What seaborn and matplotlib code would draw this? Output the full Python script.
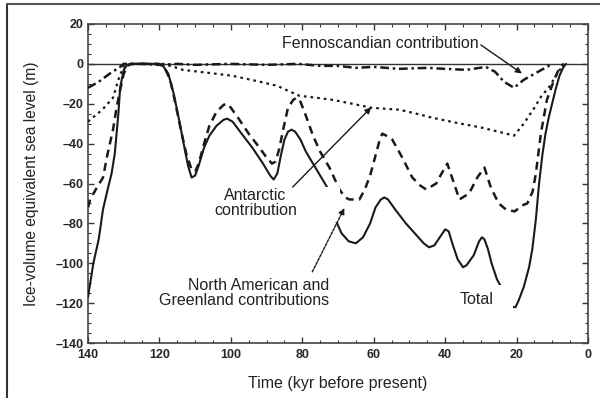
import matplotlib
matplotlib.use("Agg")
import matplotlib.pyplot as plt
from matplotlib.lines import Line2D
from matplotlib.patches import Rectangle
from matplotlib.ticker import MultipleLocator
import seaborn as sns
import pandas as pd

# ---------------- data ----------------
total_t = [140, 138.5, 137, 135.8, 134.5, 133.4, 132.5, 131.5, 131, 130, 129, 127, 124, 121,
           119, 117.5, 116, 114.5, 113, 112, 111, 110, 109, 107.5, 106, 104, 102, 101, 99.5,
           97, 94, 91, 89, 88, 87, 86, 85, 84, 83, 82, 80.5, 79, 77, 75, 73, 71.5, 70.5, 69,
           67, 65, 63, 61, 59.5, 58, 57, 56, 54, 51, 48, 46, 44.5, 43, 41.5, 40, 39, 38, 36.5,
           35, 34, 32, 30.5, 29.7, 29, 28, 27, 25.5, 24, 22.5, 21, 20.3, 19.5, 18, 16.5, 15.6,
           14.6, 13.7, 12.8, 11.9, 11, 9.1, 8, 7, 6.2]
total_v = [-117, -100, -88, -73, -63, -55, -45, -25, -12, -3, -0.5, 0, 0, 0,
           -1, -5, -15, -28, -42, -51, -57, -56, -51, -42, -36, -31, -28, -27.5, -29,
           -35, -42, -50, -56, -58, -55, -46, -38, -34, -33, -34, -38, -44, -50, -56, -62, -72, -79, -85,
           -89, -90, -87, -80, -72, -68, -67, -68, -73, -80, -86, -90, -92, -91, -87, -83, -84, -90, -98,
           -102, -101, -96, -89, -87, -88, -93, -100, -108, -113, -118, -122, -122, -119, -112, -102, -93,
           -78, -60, -46, -35, -27, -13, -6, -2, 0]

na_t = [140, 139.4, 137.5, 135.8, 134.5, 133, 132, 131, 130, 129, 128, 120, 118.5, 117, 115.5,
        114, 112.5, 111, 110, 109, 107.5, 106, 104, 102, 101, 100, 98, 95, 92, 90, 88.5, 87.5,
        86.5, 85, 84, 82.5, 81.6, 80.5, 79, 77, 75, 72.4, 69.6, 68, 66.8, 64, 62.5, 61, 59.5,
        58.3, 57.6, 56.5, 54.8, 52, 49.2, 47, 45.3, 42.5, 41, 39.4, 37.5, 36, 33.3, 31, 29,
        27.2, 25, 23, 20.5, 18.5, 17, 15.5, 14.6, 13.2, 11.5, 9.6, 8, 6.8]
na_v = [-72, -68, -62, -57, -45, -33, -22, -13, -5, -1, 0, 0, -2, -8, -20,
        -33, -45, -53, -54, -50, -40, -31, -24, -20.5, -20, -22, -27, -35, -42, -47, -50, -49,
        -43, -30, -22, -18, -17, -19, -26, -36, -44, -52, -63, -67, -68, -68, -63, -56, -46,
        -38, -35, -36, -38, -47, -57, -61, -63, -60, -55, -50, -60, -68, -65, -57, -52,
        -62, -70, -73, -74, -71, -70, -64, -55, -35, -18, -8.5, -2, 0]

fenno_t = [140, 137, 134, 131, 130, 125, 120, 115, 110, 100, 90, 81, 75, 70, 65, 60, 53, 45,
           40, 34, 28.6, 26, 23.5, 20.7, 18, 15, 12, 10]
fenno_v = [-12, -9, -5, -1.5, 0, 0, -0.5, 0, -0.5, 0, -0.5, 0, -1, -1, -2, -1.5, -2.5, -2,
           -2.5, -3, -1.5, -4, -9, -12, -8, -5, -2, 0]

ant_t = [140, 139.4, 136, 133, 131.5, 130, 128, 119, 116, 113.4, 108.7, 104, 99.5, 93, 87, 84,
         80.8, 76, 71.6, 66, 60.7, 52.8, 48, 43.6, 37, 29.7, 24, 20.7, 18, 15, 13, 11, 9, 6.8]
ant_v = [-29, -28, -23, -17, -8, -1, 0, 0, -1.5, -3, -4, -5, -6, -8.5, -11, -13.5,
         -16, -17, -18, -20, -22, -23, -25, -27, -29.5, -32, -34.5, -36, -30, -22, -16, -12, -6, 0]

x_ticks = [140, 120, 100, 80, 60, 40, 20, 0]
y_ticks = [20, 0, -20, -40, -60, -80, -100, -120, -140]

xlabel = "Time (kyr before present)"
ylabel = "Ice-volume equivalent sea level (m)"

# ---------------- figure ----------------
sns.set_theme(style="ticks")
plt.rcParams["font.family"] = ["Liberation Sans", "DejaVu Sans"]

fig = plt.figure(figsize=(6.0, 3.98), dpi=100)
ax = fig.add_axes([88 / 600, 1 - 343 / 398, 500 / 600, 319 / 398])

ink = "#1a1a1a"
frames = {
    "total": pd.DataFrame({"t": total_t, "v": total_v}),
    "na": pd.DataFrame({"t": na_t, "v": na_v}),
    "fenno": pd.DataFrame({"t": fenno_t, "v": fenno_v}),
    "ant": pd.DataFrame({"t": ant_t, "v": ant_v}),
}

ax.axhline(0, color="#333333", lw=1.0, zorder=1)
sns.lineplot(data=frames["total"], x="t", y="v", ax=ax, color=ink, lw=1.5,
             estimator=None, sort=False, zorder=3)
sns.lineplot(data=frames["na"], x="t", y="v", ax=ax, color=ink, lw=1.8,
             estimator=None, sort=False, zorder=3, linestyle=(0, (3.2, 2.2)))
sns.lineplot(data=frames["ant"], x="t", y="v", ax=ax, color=ink, lw=1.6,
             estimator=None, sort=False, zorder=3, linestyle=(0, (1.2, 1.8)))
sns.lineplot(data=frames["fenno"], x="t", y="v", ax=ax, color=ink, lw=1.8,
             estimator=None, sort=False, zorder=3, linestyle=(0, (3.5, 1.5, 1, 1.5)))

ax.set_xlim(140, 0)
ax.set_ylim(-140, 20)
ax.set_xticks(x_ticks)
ax.set_yticks(y_ticks)
ax.xaxis.set_minor_locator(MultipleLocator(5))
ax.yaxis.set_minor_locator(MultipleLocator(5))
ax.tick_params(which="both", direction="in", top=True, right=True, color="#333333")
ax.tick_params(which="major", length=4, width=1)
ax.tick_params(which="minor", length=2, width=0.8)
ax.set_xticklabels([str(v) for v in x_ticks], fontweight="bold", fontsize=9)
ax.set_yticklabels([str(v).replace("-", "\u2013") for v in y_ticks], fontweight="bold", fontsize=9)
ax.tick_params(axis="x", pad=4)
ax.tick_params(axis="y", pad=3)
for s in ax.spines.values():
    s.set_color("#444444")
    s.set_linewidth(1.2)

ax.set_xlabel(xlabel, fontsize=11.5, color="#222222", labelpad=11)
ax.set_ylabel(ylabel, fontsize=11.2, color="#222222", labelpad=12)

# white label backgrounds (as in the original figure)
ax.add_patch(Rectangle((0.234, 0.379), 0.27, 0.11, transform=ax.transAxes,
                       facecolor="white", edgecolor="none", zorder=4))
ax.add_patch(Rectangle((0.734, 0.088), 0.116, 0.094, transform=ax.transAxes,
                       facecolor="white", edgecolor="none", zorder=4))

arrow = dict(arrowstyle="-|>", color=ink, lw=1.0, mutation_scale=9, shrinkA=0, shrinkB=0)
tfs = 11.5
ax.annotate("", xy=(18.5, -4.8), xytext=(30, 9.5), arrowprops=arrow, zorder=5)
ax.text(30.5, 10.0, "Fennoscandian contribution", ha="right", va="center", fontsize=tfs,
        color="#222222", zorder=5)

ax.text(93.1, -70, "Antarctic\ncontribution", ha="center", va="center", fontsize=tfs,
        color="#222222", zorder=5, linespacing=1.0)
ax.annotate("", xy=(60.7, -21.8), xytext=(82.7, -61.8), arrowprops=arrow, zorder=5)

ax.text(72.4, -115, "North American and\nGreenland contributions", ha="right", va="center",
        fontsize=tfs, color="#222222", zorder=5, linespacing=1.0)
ax.annotate("", xy=(68.2, -72.3), xytext=(77.2, -104.3),
            arrowprops=dict(arrowstyle="-|>", color=ink, lw=1.0, mutation_scale=9,
                            shrinkA=0, shrinkB=0, linestyle=(0, (2, 1))), zorder=5)

ax.text(31.1, -118, "Total", ha="center", va="center", fontsize=tfs, color="#222222", zorder=5)

# outer frame of the figure panel
fig.add_artist(Line2D([7 / 600, 7 / 600], [0, 1 - 4 / 398], transform=fig.transFigure,
                      color="#333333", lw=1.5))
fig.add_artist(Line2D([7 / 600, 1], [1 - 4 / 398, 1 - 4 / 398], transform=fig.transFigure,
                      color="#555555", lw=1.5))

fig.savefig("out.png", dpi=100)
